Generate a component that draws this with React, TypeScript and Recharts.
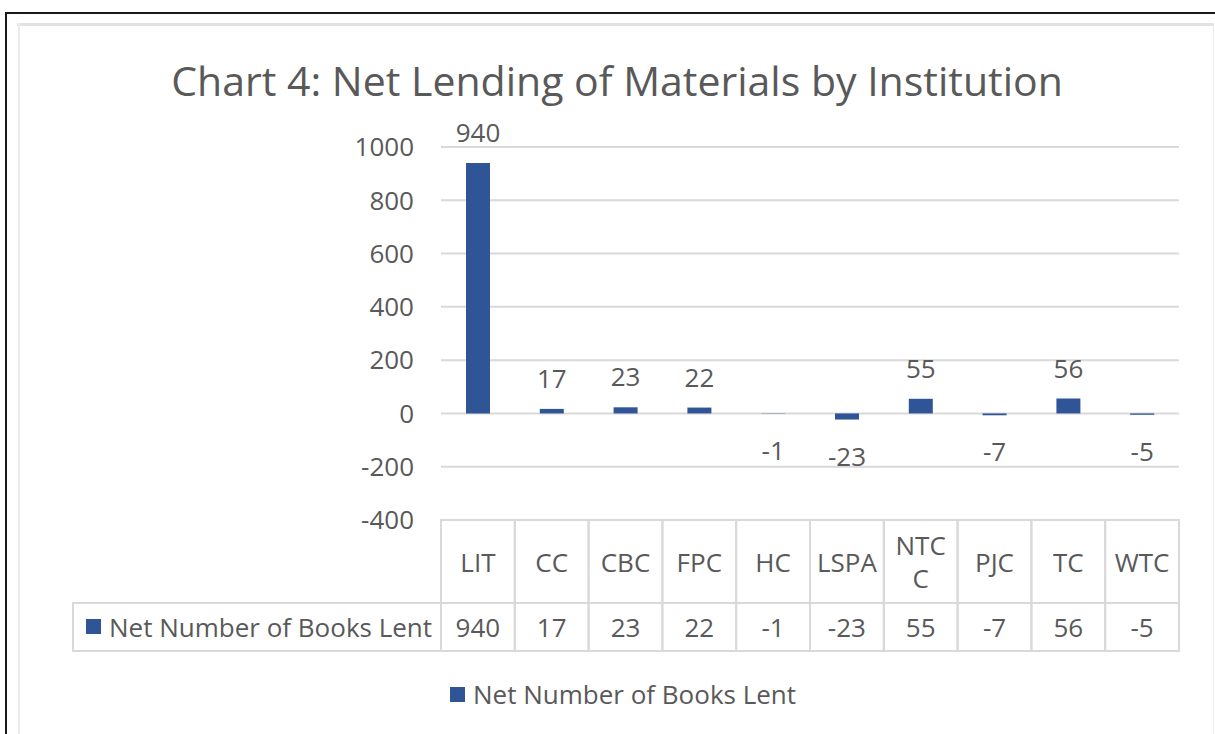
import React from "react";
import { BarChart, Bar, XAxis, YAxis, CartesianGrid, LabelList } from "recharts";

const categories = ["LIT", "CC", "CBC", "FPC", "HC", "LSPA", "NTCC", "PJC", "TC", "WTC"];
const headerLines = [["LIT"], ["CC"], ["CBC"], ["FPC"], ["HC"], ["LSPA"], ["NTC", "C"], ["PJC"], ["TC"], ["WTC"]];
const netBooksLent = [940, 17, 23, 22, -1, -23, 55, -7, 56, -5];
const yTicks = [-400, -200, 0, 200, 400, 600, 800, 1000];
const seriesName = "Net Number of Books Lent";
const titleText = "Chart 4: Net Lending of Materials by Institution";

const data = categories.map((c, i) => ({ name: c, value: netBooksLent[i], lines: headerLines[i] }));

const FONT = "'Open Sans', 'Noto Sans', sans-serif";
const TXT = "#595959";
const GRID = "#d9d9d9";
const BAR = "#2F5597";
const FS = 26;

const W = 1215;
const H = 734;
const PLOT_LEFT = 441;
const PLOT_RIGHT = 1179;
const PLOT_TOP = 147;
const PLOT_BOTTOM = 520;
const HEADER_H = 83;
const ROW_H = 48;
const TABLE_LEFT = 73;
const Y_AXIS_W = 60;
const X_AXIS_H = HEADER_H + ROW_H;
const CELL_W = (PLOT_RIGHT - PLOT_LEFT) / categories.length;

const TableTick = (props: any) => {
  const { x, index } = props;
  const d = data[index];
  const left = x - CELL_W / 2;
  const top = PLOT_BOTTOM;
  const rowTop = PLOT_BOTTOM + HEADER_H;
  const lineH = 33;
  const n = d.lines.length;
  const headerMid = top + HEADER_H / 2;
  return (
    <g>
      <rect x={left} y={top} width={CELL_W} height={HEADER_H + ROW_H} fill="none" stroke={GRID} strokeWidth={2} />
      <line x1={left} x2={left + CELL_W} y1={rowTop} y2={rowTop} stroke={GRID} strokeWidth={2} />
      {d.lines.map((t: string, k: number) => (
        <text
          key={k}
          x={x}
          y={headerMid + (k - (n - 1) / 2) * lineH}
          textAnchor="middle"
          dominantBaseline="central"
          fontFamily={FONT}
          fontSize={FS}
          fill={TXT}
        >
          {t}
        </text>
      ))}
      <text
        x={x}
        y={rowTop + ROW_H / 2}
        textAnchor="middle"
        dominantBaseline="central"
        fontFamily={FONT}
        fontSize={FS}
        fill={TXT}
      >
        {d.value}
      </text>
      {index === 0 && (
        <g>
          <rect x={TABLE_LEFT} y={rowTop} width={left - TABLE_LEFT} height={ROW_H} fill="none" stroke={GRID} strokeWidth={2} />
          <rect x={86} y={rowTop + ROW_H / 2 - 8} width={15} height={15} fill={BAR} />
          <text
            x={109}
            y={rowTop + ROW_H / 2}
            dominantBaseline="central"
            fontFamily={FONT}
            fontSize={FS}
            fill={TXT}
          >
            {seriesName}
          </text>
        </g>
      )}
    </g>
  );
};

const ValueLabel = (props: any) => {
  const { x, y, width, height, value } = props;
  const top = Math.min(y, y + height);
  const bottom = Math.max(y, y + height);
  const ly = value >= 0 ? top - 31 : bottom + 36;
  return (
    <text
      x={x + width / 2}
      y={ly}
      textAnchor="middle"
      dominantBaseline="central"
      fontFamily={FONT}
      fontSize={FS}
      fill={TXT}
    >
      {value}
    </text>
  );
};

export default function App() {
  return (
    <div style={{ position: "absolute", left: 0, top: 0, width: W, height: H, background: "#fff", overflow: "hidden" }}>
      <div style={{ position: "absolute", left: 5, top: 12, width: W - 5, height: 2, background: "#1a1a1a" }} />
      <div style={{ position: "absolute", left: 5, top: 12, width: 2, height: H - 12, background: "#1a1a1a" }} />
      <div style={{ position: "absolute", left: 17, top: 23, width: 1196, height: 3, background: "#e2e2e2" }} />
      <div style={{ position: "absolute", left: 18, top: 23, width: 2, height: H - 23, background: "#ececec" }} />
      <div style={{ position: "absolute", left: 1213, top: 23, width: 1, height: H - 23, background: "#ececec" }} />
      <div
        style={{
          position: "absolute",
          left: 0,
          top: 52,
          width: 1234,
          textAlign: "center",
          fontFamily: FONT,
          fontSize: 41,
          color: TXT,
          lineHeight: "56px",
          whiteSpace: "nowrap",
        }}
      >
        {titleText}
      </div>
      <div style={{ position: "absolute", left: 0, top: 0 }}>
        <BarChart
          width={W}
          height={H}
          data={data}
          margin={{
            top: PLOT_TOP,
            right: W - PLOT_RIGHT,
            bottom: H - PLOT_BOTTOM - X_AXIS_H,
            left: PLOT_LEFT - Y_AXIS_W,
          }}
        >
          <CartesianGrid vertical={false} stroke={GRID} strokeWidth={2} />
          <YAxis
            width={Y_AXIS_W}
            domain={[-400, 1000]}
            ticks={yTicks}
            interval={0}
            axisLine={false}
            tickLine={false}
            tickSize={0}
            tickMargin={27}
            tick={{ fontFamily: FONT, fontSize: FS, fill: TXT }}
          />
          <XAxis
            dataKey="name"
            height={X_AXIS_H}
            axisLine={false}
            tickLine={false}
            interval={0}
            tick={<TableTick />}
          />
          <Bar dataKey="value" fill={BAR} barSize={24} isAnimationActive={false}>
            <LabelList dataKey="value" content={<ValueLabel />} />
          </Bar>
        </BarChart>
      </div>
      <div
        style={{
          position: "absolute",
          left: 450,
          top: 676,
          height: 36,
          display: "flex",
          alignItems: "center",
          fontFamily: FONT,
          fontSize: FS,
          color: TXT,
          whiteSpace: "nowrap",
        }}
      >
        <span style={{ display: "inline-block", width: 15, height: 15, background: BAR, marginRight: 8 }} />
        {seriesName}
      </div>
    </div>
  );
}
